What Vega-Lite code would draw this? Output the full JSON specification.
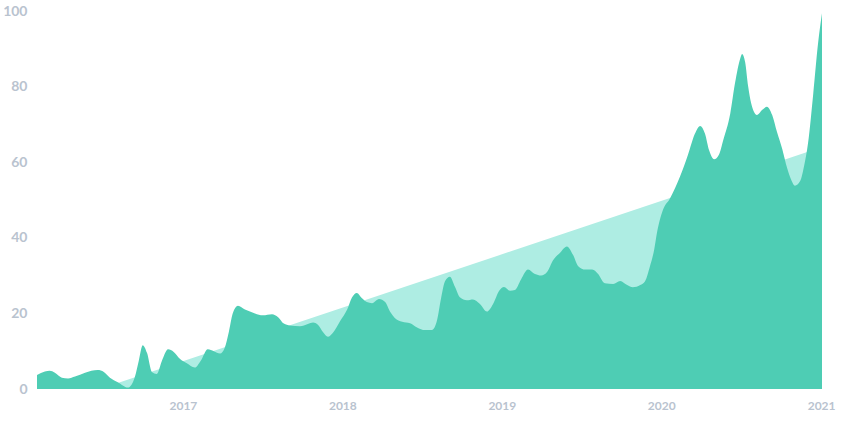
{
  "$schema": "https://vega.github.io/schema/vega-lite/v6.json",
  "width": 785,
  "height": 378,
  "autosize": {"type": "none"},
  "padding": {"left": 37, "top": 11, "right": 22, "bottom": 40},
  "background": "#ffffff",
  "config": {"view": {"stroke": null}},
  "datasets": {
    "interest": [
      {"date": "2016-02-02", "value": 3.7},
      {"date": "2016-02-20", "value": 4.6},
      {"date": "2016-03-02", "value": 4.8},
      {"date": "2016-03-14", "value": 4.3},
      {"date": "2016-03-30", "value": 3.0},
      {"date": "2016-04-13", "value": 2.8},
      {"date": "2016-04-29", "value": 3.3},
      {"date": "2016-05-22", "value": 4.3},
      {"date": "2016-06-20", "value": 5.0},
      {"date": "2016-07-04", "value": 4.5},
      {"date": "2016-07-18", "value": 3.0},
      {"date": "2016-08-05", "value": 1.8},
      {"date": "2016-08-28", "value": 0.4},
      {"date": "2016-09-13", "value": 3.2},
      {"date": "2016-09-22", "value": 7.5},
      {"date": "2016-10-01", "value": 11.6},
      {"date": "2016-10-11", "value": 9.5},
      {"date": "2016-10-22", "value": 4.5},
      {"date": "2016-11-02", "value": 4.0},
      {"date": "2016-11-14", "value": 7.5},
      {"date": "2016-11-28", "value": 10.5},
      {"date": "2016-12-11", "value": 9.8},
      {"date": "2016-12-25", "value": 8.0},
      {"date": "2017-01-10", "value": 6.8},
      {"date": "2017-01-28", "value": 5.7},
      {"date": "2017-02-11", "value": 7.5},
      {"date": "2017-02-27", "value": 10.5},
      {"date": "2017-03-13", "value": 10.0},
      {"date": "2017-03-27", "value": 9.4},
      {"date": "2017-04-07", "value": 11.0},
      {"date": "2017-04-16", "value": 15.0},
      {"date": "2017-04-25", "value": 20.0},
      {"date": "2017-05-07", "value": 22.0},
      {"date": "2017-05-23", "value": 21.0},
      {"date": "2017-06-15", "value": 20.0},
      {"date": "2017-07-03", "value": 19.5},
      {"date": "2017-07-24", "value": 19.8},
      {"date": "2017-08-07", "value": 19.0},
      {"date": "2017-08-20", "value": 17.3},
      {"date": "2017-09-03", "value": 16.8},
      {"date": "2017-09-26", "value": 16.6},
      {"date": "2017-10-14", "value": 17.2},
      {"date": "2017-10-26", "value": 17.6},
      {"date": "2017-11-06", "value": 17.0},
      {"date": "2017-11-18", "value": 15.0},
      {"date": "2017-11-29", "value": 13.8},
      {"date": "2017-12-10", "value": 14.8},
      {"date": "2017-12-27", "value": 18.0},
      {"date": "2018-01-12", "value": 21.0},
      {"date": "2018-01-23", "value": 24.2},
      {"date": "2018-02-03", "value": 25.4},
      {"date": "2018-02-15", "value": 24.0},
      {"date": "2018-02-26", "value": 23.0},
      {"date": "2018-03-10", "value": 22.7},
      {"date": "2018-03-26", "value": 23.8},
      {"date": "2018-04-09", "value": 23.0},
      {"date": "2018-04-20", "value": 20.5},
      {"date": "2018-05-01", "value": 18.8},
      {"date": "2018-05-18", "value": 17.8},
      {"date": "2018-06-05", "value": 17.4},
      {"date": "2018-06-21", "value": 16.3},
      {"date": "2018-07-09", "value": 15.6},
      {"date": "2018-07-25", "value": 15.6},
      {"date": "2018-08-06", "value": 18.3},
      {"date": "2018-08-15", "value": 24.0},
      {"date": "2018-08-24", "value": 28.5},
      {"date": "2018-09-04", "value": 29.7},
      {"date": "2018-09-16", "value": 27.0},
      {"date": "2018-09-27", "value": 24.3},
      {"date": "2018-10-13", "value": 23.5},
      {"date": "2018-10-27", "value": 23.7},
      {"date": "2018-11-12", "value": 22.5},
      {"date": "2018-11-28", "value": 20.5},
      {"date": "2018-12-12", "value": 22.5},
      {"date": "2018-12-26", "value": 26.0},
      {"date": "2019-01-06", "value": 27.0},
      {"date": "2019-01-20", "value": 26.0},
      {"date": "2019-01-31", "value": 26.2},
      {"date": "2019-02-14", "value": 29.0},
      {"date": "2019-03-02", "value": 31.6},
      {"date": "2019-03-18", "value": 30.4},
      {"date": "2019-04-01", "value": 30.0},
      {"date": "2019-04-15", "value": 31.0},
      {"date": "2019-04-28", "value": 34.0},
      {"date": "2019-05-14", "value": 36.0},
      {"date": "2019-05-30", "value": 37.7},
      {"date": "2019-06-13", "value": 35.5},
      {"date": "2019-06-25", "value": 32.5},
      {"date": "2019-07-11", "value": 31.6},
      {"date": "2019-07-27", "value": 31.6},
      {"date": "2019-08-09", "value": 30.5},
      {"date": "2019-08-25", "value": 28.0},
      {"date": "2019-09-13", "value": 27.8},
      {"date": "2019-09-29", "value": 28.6},
      {"date": "2019-10-15", "value": 27.5},
      {"date": "2019-10-28", "value": 26.9},
      {"date": "2019-11-14", "value": 27.5},
      {"date": "2019-11-25", "value": 28.5},
      {"date": "2019-12-06", "value": 32.4},
      {"date": "2019-12-16", "value": 37.0},
      {"date": "2019-12-22", "value": 41.2},
      {"date": "2020-01-05", "value": 47.4},
      {"date": "2020-01-21", "value": 50.4},
      {"date": "2020-02-13", "value": 56.2},
      {"date": "2020-03-02", "value": 61.9},
      {"date": "2020-03-18", "value": 67.5},
      {"date": "2020-03-30", "value": 69.6},
      {"date": "2020-04-10", "value": 67.6},
      {"date": "2020-04-20", "value": 63.0},
      {"date": "2020-05-01", "value": 60.8},
      {"date": "2020-05-12", "value": 62.0},
      {"date": "2020-05-22", "value": 65.9},
      {"date": "2020-06-07", "value": 72.9},
      {"date": "2020-06-18", "value": 81.0},
      {"date": "2020-06-30", "value": 87.5},
      {"date": "2020-07-04", "value": 88.6},
      {"date": "2020-07-11", "value": 86.5},
      {"date": "2020-07-18", "value": 80.0},
      {"date": "2020-07-25", "value": 75.5},
      {"date": "2020-08-07", "value": 72.5},
      {"date": "2020-08-19", "value": 73.8},
      {"date": "2020-08-30", "value": 74.7},
      {"date": "2020-09-11", "value": 72.5},
      {"date": "2020-09-22", "value": 68.0},
      {"date": "2020-10-04", "value": 63.5},
      {"date": "2020-10-15", "value": 58.5},
      {"date": "2020-10-24", "value": 55.5},
      {"date": "2020-11-02", "value": 53.8},
      {"date": "2020-11-14", "value": 55.0},
      {"date": "2020-11-23", "value": 59.0},
      {"date": "2020-12-02", "value": 65.0},
      {"date": "2020-12-14", "value": 78.2},
      {"date": "2020-12-25", "value": 91.5},
      {"date": "2021-01-03", "value": 99.4}
    ],
    "trend": [
      {"date": "2016-06-25", "value": 0},
      {"date": "2021-01-03", "value": 64}
    ]
  },
  "encoding": {
    "x": {
      "field": "date",
      "type": "temporal",
      "scale": {"type": "utc", "nice": false},
      "axis": {
        "title": null,
        "format": "%Y",
        "tickCount": {"interval": "year", "step": 1},
        "grid": false,
        "domain": false,
        "ticks": false,
        "labelPadding": 11,
        "labelFont": "Lato",
        "labelFontSize": 12,
        "labelFontWeight": "bold",
        "labelColor": "#b9c3cf",
        "labelFlush": false,
        "labelOverlap": false
      }
    },
    "y": {
      "field": "value",
      "type": "quantitative",
      "scale": {"domain": [0, 100], "nice": false},
      "axis": {
        "title": null,
        "values": [0, 20, 40, 60, 80, 100],
        "grid": false,
        "domain": false,
        "ticks": false,
        "labelPadding": 10,
        "labelFont": "Lato",
        "labelFontSize": 14,
        "labelFontWeight": "bold",
        "labelColor": "#b9c3cf",
        "labelFlush": false
      }
    }
  },
  "layer": [
    {
      "data": {"name": "trend"},
      "mark": {"type": "area", "interpolate": "linear", "color": "#aeede3", "opacity": 1, "clip": true}
    },
    {
      "data": {"name": "interest"},
      "mark": {"type": "area", "interpolate": "monotone", "color": "#4ecdb4", "opacity": 1}
    }
  ]
}
